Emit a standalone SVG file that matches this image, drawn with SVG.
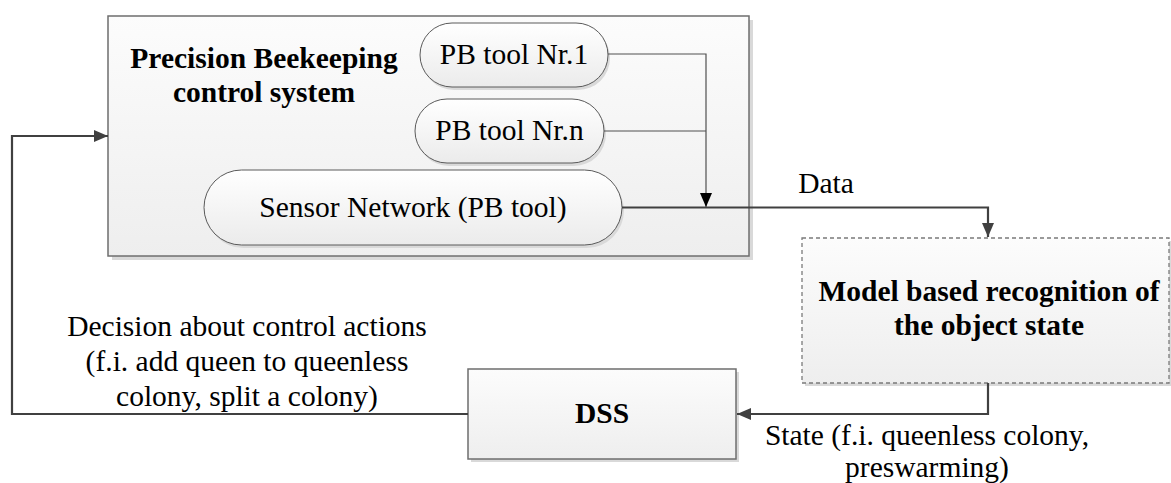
<svg xmlns="http://www.w3.org/2000/svg" width="1171" height="483" viewBox="0 0 1171 483" font-family="'Liberation Serif', 'Times New Roman', 'DejaVu Serif', serif">
<defs>
<linearGradient id="gBox" x1="0" y1="0" x2="0" y2="1"><stop offset="0" stop-color="#fcfcfc"/><stop offset="1" stop-color="#eeeeee"/></linearGradient>
<linearGradient id="gPill" x1="0" y1="0" x2="0" y2="1"><stop offset="0" stop-color="#ffffff"/><stop offset="1" stop-color="#ebebeb"/></linearGradient>
<marker id="aDark" viewBox="0 0 14 14" refX="14" refY="7" markerWidth="14" markerHeight="14" markerUnits="userSpaceOnUse" orient="auto"><path d="M0,1 L14,7 L0,13 Z" fill="#404040"/></marker>
<marker id="aBlack" viewBox="0 0 14 14" refX="14" refY="7" markerWidth="14" markerHeight="14" markerUnits="userSpaceOnUse" orient="auto"><path d="M0,1 L14,7 L0,13 Z" fill="#000000"/></marker>
</defs>
<style>
.shadow{fill:#d9d9d9;}
.box{fill:url(#gBox);stroke:#6e6e6e;stroke-width:1.5;}
.pill{fill:url(#gPill);stroke:#5a5a5a;stroke-width:1;}
.dash{fill:url(#gBox);stroke:#7a7a7a;stroke-width:1.3;stroke-dasharray:4 3;}
.t{font-family:"Liberation Serif","Times New Roman","DejaVu Serif",serif;font-size:29.5px;fill:#000;text-anchor:middle;}
.b{font-weight:bold;}
.thick{fill:none;stroke:#404040;stroke-width:2.2;}
.thin{fill:none;stroke:#505050;stroke-width:1.2;}
</style>

<g id="pb-system">
<rect class="shadow" x="112" y="20" width="641" height="240"/>
<rect class="box" x="108" y="16" width="641" height="240"/>
<text class="t b" x="264" y="68">Precision Beekeeping</text>
<text class="t b" x="264" y="102">control system</text>
</g>

<g id="pb-tool-1">
<rect class="shadow" x="422" y="26" width="188" height="64" rx="32"/>
<rect class="pill" x="420" y="23" width="188" height="64" rx="32"/>
<text class="t" x="514" y="64">PB tool Nr.1</text>
</g>

<g id="pb-tool-n">
<rect class="shadow" x="417" y="102" width="189" height="64" rx="32"/>
<rect class="pill" x="415" y="99" width="189" height="64" rx="32"/>
<text class="t" x="509.5" y="140">PB tool Nr.n</text>
</g>

<g id="sensor-network">
<rect class="shadow" x="206" y="173" width="418" height="75" rx="37.5"/>
<rect class="pill" x="204" y="170" width="418" height="75" rx="37.5"/>
<text class="t" x="413" y="217">Sensor Network (PB tool)</text>
</g>

<g id="model">
<rect class="shadow" x="805" y="241" width="368" height="145"/>
<rect class="dash" x="802" y="238" width="367" height="145"/>
<text class="t b" x="989" y="301">Model based recognition of</text>
<text class="t b" x="989" y="335">the object state</text>
</g>

<g id="dss">
<rect class="shadow" x="471" y="372" width="268" height="90"/>
<rect class="box" x="468" y="369" width="268" height="90"/>
<text class="t b" x="602" y="423">DSS</text>
</g>

<g id="connectors">
<path class="thin" d="M608,54 H706 V207" marker-end="url(#aBlack)"/>
<path class="thin" d="M604,131 H706"/>
<path class="thick" d="M622,207.5 H988 V237" marker-end="url(#aDark)"/>
<path class="thick" d="M988,383 V414 H737" marker-end="url(#aDark)"/>
<path class="thick" d="M468,414 H12 V136 H108" marker-end="url(#aDark)"/>
</g>

<g id="labels">
<text class="t" x="826" y="193">Data</text>
<text class="t" x="247" y="336">Decision about control actions</text>
<text class="t" x="247" y="371">(f.i. add queen to queenless</text>
<text class="t" x="247" y="406">colony, split a colony)</text>
<text class="t" x="927" y="445">State (f.i. queenless colony,</text>
<text class="t" x="927" y="477">preswarming)</text>
</g>
</svg>
